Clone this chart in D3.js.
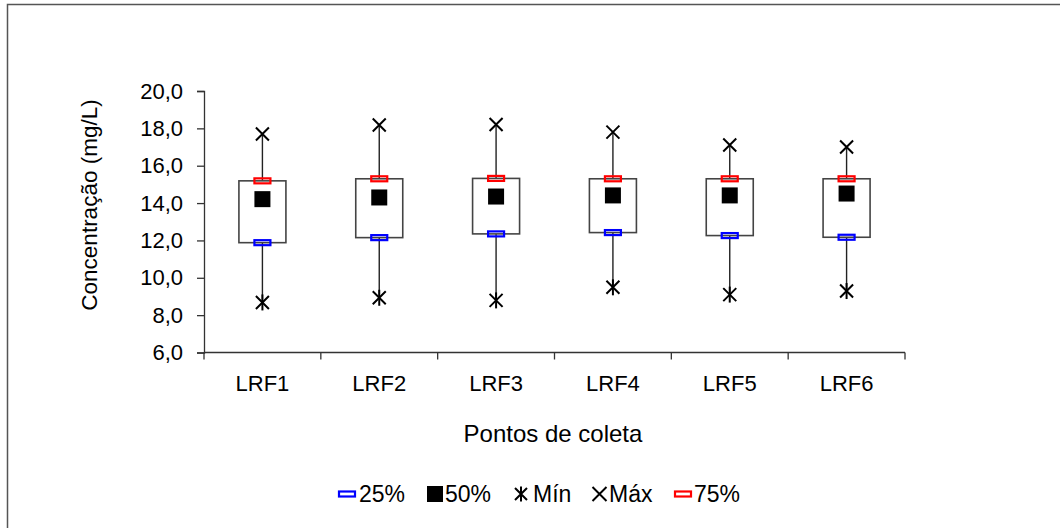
<!DOCTYPE html>
<html lang="pt">
<head>
<meta charset="utf-8">
<script src="https://d3js.org/d3.v7.min.js"></script>
<style>
  body { margin: 0; background: #fff; }
  text { font-family: "Liberation Sans", Arial, sans-serif; fill: #000; }
</style>
</head>
<body>
<div id="chart"></div>
<script>
// data
var pontos = ["LRF1", "LRF2", "LRF3", "LRF4", "LRF5", "LRF6"];
var q25 = [11.88, 12.15, 12.35, 12.42, 12.26, 12.17];
var q50 = [14.21, 14.30, 14.35, 14.41, 14.41, 14.51];
var q75 = [15.19, 15.30, 15.32, 15.30, 15.30, 15.30];
var minimo = [8.68, 8.93, 8.79, 9.49, 9.10, 9.29];
var maximo = [17.70, 18.18, 18.21, 17.80, 17.11, 17.00];
var yTicks = [6, 8, 10, 12, 14, 16, 18, 20];
var legendItems = ["25%", "50%", "Mín", "Máx", "75%"];

var W = 1060, H = 528;
var svg = d3.select("#chart").append("svg")
    .attr("width", W).attr("height", H);

// outer frame (only top and left visible)
svg.append("rect")
    .attr("x", 7.5).attr("y", 4.5)
    .attr("width", W + 10).attr("height", H + 10)
    .attr("fill", "#fff").attr("stroke", "#555").attr("stroke-width", 1.5);

var x = d3.scaleBand().domain(pontos).range([204, 905]);
var y = d3.scaleLinear().domain([6, 20]).range([352.5, 91]);

var fmt = function(d) { return d3.format(".1f")(d).replace(".", ","); };

// y axis
var yAxis = svg.append("g")
    .attr("transform", "translate(204,0)")
    .call(d3.axisLeft(y).tickValues(yTicks).tickFormat(fmt).tickSize(7).tickPadding(14));
yAxis.select(".domain").attr("stroke", "#333").attr("stroke-width", 1.3);
yAxis.selectAll(".tick line").attr("stroke", "#333").attr("stroke-width", 1.3);
yAxis.selectAll("text").style("font-size", "22px").attr("fill", "#000")
    .style("font-family", '"Liberation Sans", Arial, sans-serif');

// x axis: ticks between categories
var xAxis = svg.append("g").attr("transform", "translate(0,352.5)");
xAxis.append("line").attr("x1", 204).attr("x2", 905)
    .attr("stroke", "#333").attr("stroke-width", 1.3);
var seps = pontos.map(function(p) { return x(p); }).concat([x.range()[1]]);
xAxis.selectAll("line.sep").data(seps).enter().append("line")
    .attr("class", "sep")
    .attr("x1", function(d) { return d; }).attr("x2", function(d) { return d; })
    .attr("y1", 0).attr("y2", 7)
    .attr("stroke", "#333").attr("stroke-width", 1.3);
xAxis.selectAll("text").data(pontos).enter().append("text")
    .attr("x", function(d) { return x(d) + x.bandwidth() / 2; })
    .attr("y", 38)
    .attr("text-anchor", "middle")
    .style("font-size", "22px")
    .text(function(d) { return d; });

// axis titles
svg.append("text")
    .attr("transform", "translate(97,205) rotate(-90)")
    .attr("text-anchor", "middle")
    .style("font-size", "22.5px")
    .text("Concentração (mg/L)");
svg.append("text")
    .attr("x", 553).attr("y", 442)
    .attr("text-anchor", "middle")
    .style("font-size", "24px")
    .text("Pontos de coleta");

var boxW = 47;
var cx = function(i) { return x(pontos[i]) + x.bandwidth() / 2; };

var g = svg.append("g");
pontos.forEach(function(p, i) {
  var c = cx(i);
  // whisker
  g.append("line")
    .attr("x1", c).attr("x2", c)
    .attr("y1", y(minimo[i])).attr("y2", y(maximo[i]))
    .attr("stroke", "#222").attr("stroke-width", 1.4);
  // box
  g.append("rect")
    .attr("x", c - boxW / 2).attr("y", y(q75[i]))
    .attr("width", boxW).attr("height", y(q25[i]) - y(q75[i]))
    .attr("fill", "#fff").attr("stroke", "#444").attr("stroke-width", 1.6);
});

function dash(sel, cxp, cyp, color) {
  sel.append("rect")
    .attr("x", cxp - 8).attr("y", cyp - 2.5)
    .attr("width", 16).attr("height", 5)
    .attr("fill", "none").attr("stroke", color).attr("stroke-width", 2.2);
}
function square(sel, cxp, cyp) {
  sel.append("rect")
    .attr("x", cxp - 8).attr("y", cyp - 8)
    .attr("width", 16).attr("height", 16).attr("fill", "#000");
}
function cross(sel, cxp, cyp, s) {
  sel.append("path")
    .attr("d", "M" + (cxp - s) + "," + (cyp - s) + "L" + (cxp + s) + "," + (cyp + s) +
               "M" + (cxp - s) + "," + (cyp + s) + "L" + (cxp + s) + "," + (cyp - s))
    .attr("stroke", "#000").attr("stroke-width", 2).attr("fill", "none");
}
function star(sel, cxp, cyp, s) {
  cross(sel, cxp, cyp, s);
  sel.append("path")
    .attr("d", "M" + cxp + "," + (cyp - s - 1.5) + "L" + cxp + "," + (cyp + s + 1.5))
    .attr("stroke", "#000").attr("stroke-width", 2);
}

pontos.forEach(function(p, i) {
  var c = cx(i);
  dash(g, c, y(q25[i]), "#0000ff");
  dash(g, c, y(q75[i]), "#ff0000");
  square(g, c, y(q50[i]));
  star(g, c, y(minimo[i]), 6.5);
  cross(g, c, y(maximo[i]), 6.5);
});

// legend
var legX = [347, 435, 521, 599.5, 683];
var textX = [359, 445, 533, 609, 694];
var leg = svg.append("g");
legendItems.forEach(function(name, i) {
  var lx = legX[i], ly = 494;
  if (i === 0) dash(leg, lx, ly, "#0000ff");
  if (i === 1) square(leg, lx, ly);
  if (i === 2) star(leg, lx, ly, 6);
  if (i === 3) cross(leg, lx, ly, 7);
  if (i === 4) dash(leg, lx, ly, "#ff0000");
  leg.append("text")
    .attr("x", textX[i]).attr("y", 501.5)
    .style("font-size", "23px")
    .text(name);
});
</script>
</body>
</html>
